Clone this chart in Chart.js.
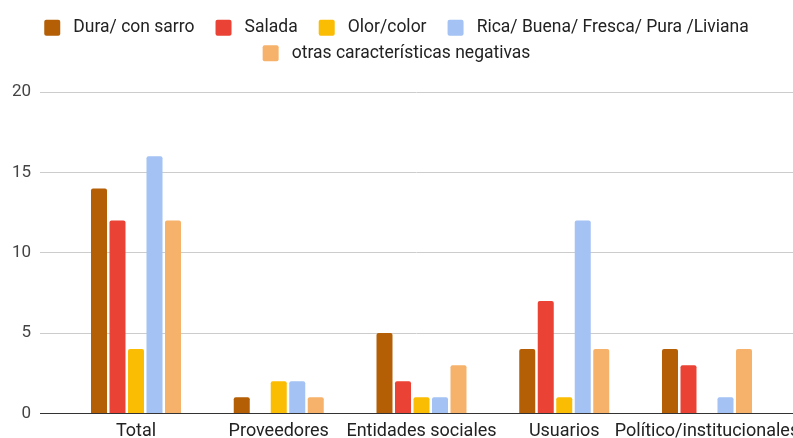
<!DOCTYPE html>
<html>
<head>
<meta charset="utf-8">
<script src="https://cdn.jsdelivr.net/npm/chart.js@4"></script>
<style>
  html, body { margin: 0; padding: 0; background: #fff; }
  #wrap { width: 793px; height: 438px; }
</style>
</head>
<body>
<div id="wrap"><canvas id="chart"></canvas></div>
<script>
// categories and series
var categories = ['Total', 'Proveedores', 'Entidades sociales', 'Usuarios', 'Político/institucionales'];
var duraConSarro = [14, 1, 5, 4, 4];
var salada = [12, 0, 2, 7, 3];
var olorColor = [4, 2, 1, 1, 0];
var ricaBuena = [16, 2, 1, 12, 1];
var otrasNegativas = [12, 1, 3, 4, 4];
var yTicks = [0, 5, 10, 15, 20];

var seriesNames = ['Dura/ con sarro', 'Salada', 'Olor/color', 'Rica/ Buena/ Fresca/ Pura /Liviana', 'otras características negativas'];
var seriesValues = [duraConSarro, salada, olorColor, ricaBuena, otrasNegativas];
var seriesColors = ['#B45F06', '#EA4335', '#FBBC04', '#A4C2F4', '#F6B26B'];

var font = 'Roboto';

function toPoints(values) {
	return values.map((v, i) => ({ x: i, y: v }));
}

var datasets = seriesNames.map((name, k) => ({
	label: name,
	data: toPoints(seriesValues[k]),
	backgroundColor: seriesColors[k],
	borderRadius: 2,
	categoryPercentage: 0.648,
	barPercentage: 0.865
}));

// push the plot down below the legend
var legendMargin = {
	id: 'legendMargin',
	beforeInit(chart) {
		var fit = chart.legend.fit;
		chart.legend.fit = function () {
			fit.bind(chart.legend)();
			this.height += 20;
		};
	}
};

var ctx = document.getElementById('chart');
new Chart(ctx, {
	type: 'bar',
	data: { datasets: datasets },
	plugins: [legendMargin],
	options: {
		responsive: true,
		maintainAspectRatio: false,
		animation: false,
		layout: { padding: { top: 11, right: 0, bottom: -11, left: 0 } },
		plugins: {
			tooltip: { enabled: false },
			legend: {
				position: 'top',
				labels: {
					boxWidth: 16,
					boxHeight: 16,
					padding: 8,
					color: '#222',
					font: { family: font, size: 17.5 },
					useBorderRadius: true,
					borderRadius: 2,
					// a bit more room between items, as in the picture
					generateLabels: (chart) => {
						var items = Chart.defaults.plugins.legend.labels.generateLabels(chart);
						items.forEach((it, i) => { it.text = ' ' + it.text + (i < 3 ? '   ' : ''); });
						return items;
					}
				}
			}
		},
		scales: {
			x: {
				type: 'linear',
				offset: false,
				min: -0.6725,
				max: 4.6025,
				afterBuildTicks: (scale) => {
					scale.ticks = categories.map((c, i) => ({ value: i }));
				},
				afterFit: (scale) => {
					scale.paddingLeft = 0;
					scale.paddingRight = 0;
				},
				ticks: {
					autoSkip: false,
					maxRotation: 0,
					padding: 7,
					color: '#222',
					font: { family: font, size: 18 },
					callback: (v) => categories[v]
				},
				grid: { display: false, drawTicks: false },
				border: { display: true, color: '#333', width: 1 }
			},
			y: {
				min: 0,
				max: 20,
				afterBuildTicks: (scale) => {
					scale.ticks = yTicks.map((v) => ({ value: v }));
				},
				afterFit: (scale) => { scale.width = 40; },
				ticks: {
					padding: 9,
					color: '#444',
					font: { family: font, size: 17 }
				},
				grid: { color: '#cccccc', drawTicks: false },
				border: { display: false }
			}
		}
	}
});
</script>
</body>
</html>
